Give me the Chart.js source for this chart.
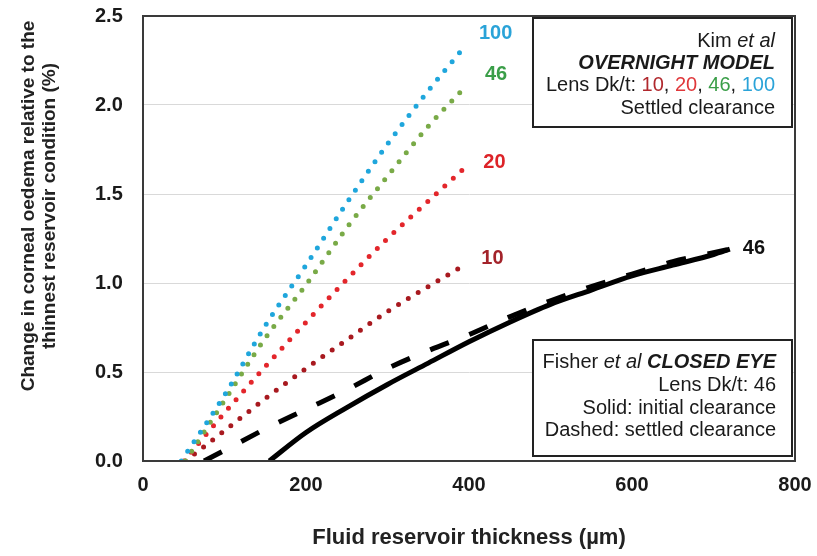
<!DOCTYPE html>
<html><head><meta charset="utf-8">
<script src="https://cdn.jsdelivr.net/npm/chart.js@4.4.0/dist/chart.umd.min.js"></script>
<style>html,body{margin:0;padding:0;background:#fff}</style>
</head><body>
<canvas id="c" width="817" height="556"></canvas>
<script>
// ---- data ----
const xTicks = [0, 200, 400, 600, 800];
const yTicks = [0, 0.5, 1.0, 1.5, 2.0, 2.5];

const kim100X = [47, 100, 150, 200, 250, 300, 350, 395];
const kim100Y = [0, 0.37, 0.76, 1.10, 1.45, 1.78, 2.08, 2.33];
const kim46X  = [52, 100, 150, 200, 250, 300, 350, 395];
const kim46Y  = [0, 0.34, 0.69, 0.99, 1.31, 1.60, 1.88, 2.10];
const kim20X  = [50, 100, 150, 200, 250, 300, 350, 398];
const kim20Y  = [0, 0.27, 0.53, 0.78, 1.02, 1.25, 1.46, 1.66];
const kim10X  = [52, 100, 150, 200, 250, 300, 350, 398];
const kim10Y  = [0, 0.17, 0.35, 0.52, 0.68, 0.84, 0.98, 1.11];
const fisherSettledX = [75, 100, 150, 200, 250, 300, 350, 400, 450, 500, 550, 600, 650, 700, 720];
const fisherSettledY = [0, 0.06, 0.18, 0.29, 0.40, 0.52, 0.62, 0.71, 0.81, 0.90, 0.98, 1.05, 1.12, 1.17, 1.19];
const fisherInitialX = [155, 200, 250, 300, 350, 400, 450, 500, 550, 600, 650, 700, 720];
const fisherInitialY = [0, 0.16, 0.30, 0.43, 0.55, 0.67, 0.78, 0.88, 0.96, 1.04, 1.10, 1.16, 1.19];

const endLabels = ['100', '46', '20', '10', '', '46'];

const pts = (xs, ys) => xs.map((x, i) => ({x, y: ys[i]}));
const FONT = '"Liberation Sans", Arial, sans-serif';

function dotted(data, color, lbl, lblColor, dx, dy) {
  return {data, borderColor: color, borderWidth: 5, borderDash: [0, 11.5], borderCapStyle: 'round',
    pointRadius: 0, fill: false, cubicInterpolationMode: 'monotone', endLabel: lbl, endColor: lblColor, dx, dy};
}

const datasets = [
  dotted(pts(kim100X, kim100Y), '#1fa6dc', endLabels[0], '#2aa3d8', 14, -13),
  dotted(pts(kim46X, kim46Y), '#79aa47', endLabels[1], '#3a9e48', 20, -13),
  dotted(pts(kim20X, kim20Y), '#e3262b', endLabels[2], '#dd2328', 16, -3),
  dotted(pts(kim10X, kim10Y), '#a8191f', endLabels[3], '#a3232a', 14, -5),
  {data: pts(fisherSettledX, fisherSettledY), borderColor: '#000', borderWidth: 5, borderDash: [20, 22],
    pointRadius: 0, fill: false, cubicInterpolationMode: 'monotone', endLabel: endLabels[4]},
  {data: pts(fisherInitialX, fisherInitialY), borderColor: '#000', borderWidth: 5,
    pointRadius: 0, fill: false, cubicInterpolationMode: 'monotone', endLabel: endLabels[5], endColor: '#111', dx: 13, dy: -1}
];

function drawRuns(ctx, runs, rightX, y) {
  let total = 0;
  runs.forEach(r => { ctx.font = r.f; total += ctx.measureText(r.t).width; });
  let x = rightX - total;
  runs.forEach(r => { ctx.font = r.f; ctx.fillStyle = r.c || '#1a1a1a'; ctx.fillText(r.t, x, y); x += ctx.measureText(r.t).width; });
}

const overlay = {
  id: 'overlay',
  afterDraw(chart) {
    const {ctx, chartArea: a} = chart;
    ctx.save();
    ctx.strokeStyle = '#3a3a3a'; ctx.lineWidth = 2;
    ctx.strokeRect(a.left, a.top, a.right - a.left, a.bottom - a.top);

    // end labels
    ctx.textBaseline = 'middle'; ctx.textAlign = 'left';
    ctx.font = 'bold 20px ' + FONT;
    chart.data.datasets.forEach((ds, i) => {
      if (!ds.endLabel) return;
      const m = chart.getDatasetMeta(i);
      const p = m.data[m.data.length - 1];
      ctx.fillStyle = ds.endColor;
      ctx.fillText(ds.endLabel, p.x + ds.dx, p.y + ds.dy);
    });

    // legend boxes
    const R = 'normal 20px ' + FONT, I = 'italic 20px ' + FONT, BI = 'italic bold 20px ' + FONT;
    ctx.fillStyle = '#fff';
    ctx.fillRect(533, 18, 259, 109);
    ctx.fillRect(533, 340, 259, 116);
    ctx.strokeStyle = '#222'; ctx.lineWidth = 2;
    ctx.strokeRect(533, 18, 259, 109);
    ctx.strokeRect(533, 340, 259, 116);
    ctx.textBaseline = 'middle';
    drawRuns(ctx, [{t: 'Kim ', f: R}, {t: 'et al', f: I}], 775, 41);
    drawRuns(ctx, [{t: 'OVERNIGHT MODEL', f: BI}], 775, 63);
    drawRuns(ctx, [{t: 'Lens Dk/t: ', f: R}, {t: '10', f: R, c: '#b0282d'}, {t: ', ', f: R},
      {t: '20', f: R, c: '#e0383b'}, {t: ', ', f: R}, {t: '46', f: R, c: '#3a9e48'}, {t: ', ', f: R},
      {t: '100', f: R, c: '#2aa3d8'}], 775, 85);
    drawRuns(ctx, [{t: 'Settled clearance', f: R}], 775, 108);

    drawRuns(ctx, [{t: 'Fisher ', f: R}, {t: 'et al', f: I}, {t: ' CLOSED EYE', f: BI}], 776, 362);
    drawRuns(ctx, [{t: 'Lens Dk/t: 46', f: R}], 776, 385);
    drawRuns(ctx, [{t: 'Solid: initial clearance', f: R}], 776, 408);
    drawRuns(ctx, [{t: 'Dashed: settled clearance', f: R}], 776, 430);

    // axis titles
    ctx.fillStyle = '#222'; ctx.textAlign = 'center';
    ctx.font = 'bold 22px ' + FONT;
    ctx.fillText('Fluid reservoir thickness (\u00b5m)', (a.left + a.right) / 2, 538);
    ctx.font = 'bold 19px ' + FONT;
    ctx.save();
    ctx.translate(29, 206); ctx.rotate(-Math.PI / 2);
    ctx.fillText('Change in corneal oedema relative to the', 0, 0);
    ctx.fillText('thinnest reservoir condition (%)', 0, 21);
    ctx.restore();
    ctx.restore();
  }
};

new Chart(document.getElementById('c'), {
  type: 'line',
  data: {datasets},
  options: {
    responsive: false, animation: false,
    layout: {padding: {top: 16, right: 22, left: 95, bottom: 0}},
    plugins: {legend: {display: false}, tooltip: {enabled: false}},
    scales: {
      x: {type: 'linear', min: 0, max: 800,
        afterBuildTicks: s => { s.ticks = xTicks.map(v => ({value: v})); },
        afterFit: s => { s.height = 95; },
        grid: {display: false, drawTicks: false},
        border: {display: true, color: '#3a3a3a', width: 2},
        ticks: {padding: 0, color: '#1a1a1a', font: {family: FONT, size: 20, weight: 'bold', lineHeight: '48px'}, maxRotation: 0}},
      y: {type: 'linear', min: 0, max: 2.5,
        afterBuildTicks: s => { s.ticks = yTicks.map(v => ({value: v})); },
        afterFit: s => { s.width = 48; },
        grid: {color: '#d9d9d9', lineWidth: 1, drawTicks: false},
        border: {display: true, color: '#3a3a3a', width: 2},
        ticks: {padding: 0, crossAlign: 'far', color: '#1a1a1a', font: {family: FONT, size: 20, weight: 'bold'},
          callback: v => Number(v).toFixed(1)}}
    }
  },
  plugins: [overlay]
});
</script>
</body></html>
